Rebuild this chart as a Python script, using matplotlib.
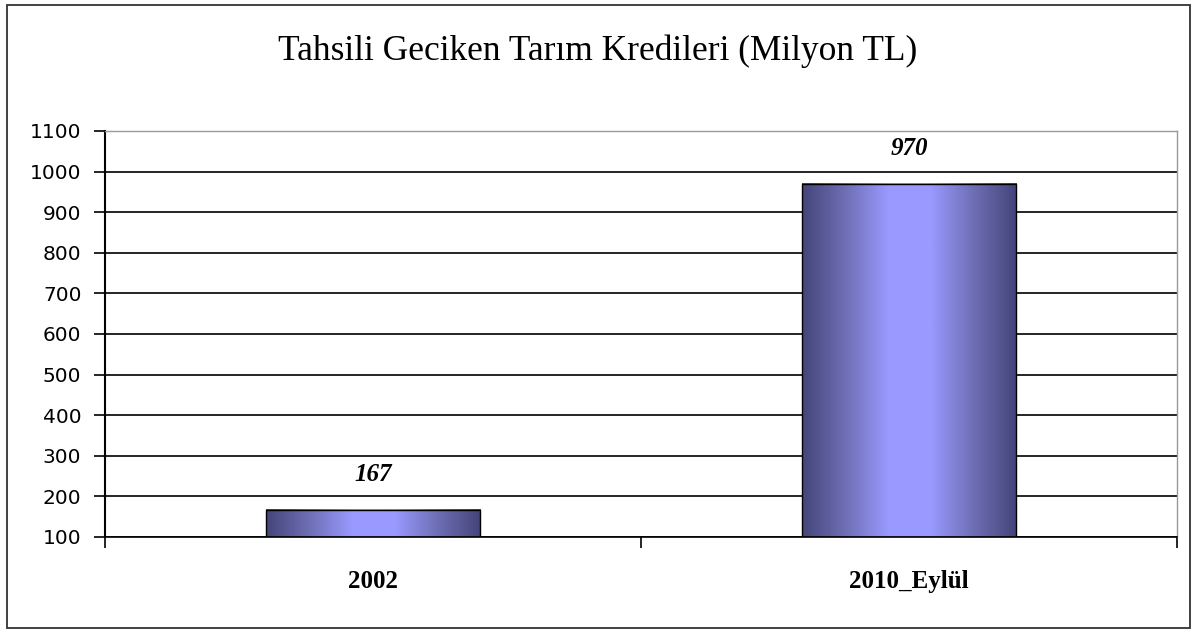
import matplotlib
matplotlib.use("Agg")
import matplotlib.pyplot as plt
import numpy as np
from matplotlib.colors import LinearSegmentedColormap
from matplotlib.patches import Rectangle

categories = ["2002", "2010_Eylül"]
values = [167, 970]
yticks = [100, 200, 300, 400, 500, 600, 700, 800, 900, 1000, 1100]
title = "Tahsili Geciken Tarım Kredileri (Milyon TL)"

fig = plt.figure(figsize=(11.97, 6.33), dpi=100)
fig.patch.set_facecolor("white")
# outer chart frame
fig.add_artist(Rectangle((7/1197, 1-628/633), (1190-7)/1197, (628-5)/633,
                         transform=fig.transFigure, fill=False,
                         edgecolor="#333333", linewidth=1.3))

ax = fig.add_axes([105/1197, 1-537/633, 1072/1197, 406/633])
ymin, ymax = yticks[0], yticks[-1]
x = np.arange(len(categories))
bars = ax.bar(x, [v - ymin for v in values], bottom=ymin, width=0.40,
              color="none", edgecolor="black", linewidth=1.0, zorder=3)

cmap = LinearSegmentedColormap.from_list(
    "g", ["#45457a", "#6e6eb5", "#9999ff", "#9999ff", "#6e6eb5", "#45457a"])
grad = np.linspace(0, 1, 256).reshape(1, -1)
for b in bars:
    x0, w = b.get_x(), b.get_width()
    y0, h = b.get_y(), b.get_height()
    ax.imshow(grad, cmap=cmap, aspect="auto", extent=(x0, x0 + w, y0, y0 + h),
              zorder=2, interpolation="bilinear")

for b, v in zip(bars, values):
    ax.annotate(str(v), (b.get_x() + b.get_width() / 2, v), xytext=(0, 17),
                textcoords="offset points", ha="center", va="bottom",
                fontsize=18, fontweight="bold", fontstyle="italic",
                family="Liberation Serif", zorder=4)

ax.set_xlim(-0.5, len(categories) - 0.5)
ax.set_ylim(ymin, ymax)
ax.set_yticks(yticks)
ax.set_yticklabels([str(t) for t in yticks], family="DejaVu Sans", fontsize=14.5)
ax.set_xticks(x)
ax.set_xticklabels(categories, family="Liberation Serif", fontsize=18, fontweight="bold")
ax.tick_params(axis="x", length=0, pad=24)
ax.tick_params(axis="y", length=8, width=1.2, direction="out", pad=9)
# category boundary ticks
ax.set_xticks(np.arange(-0.5, len(categories), 1.0), minor=True)
ax.tick_params(axis="x", which="minor", length=8, width=1.2, direction="out")

for t in yticks[:-1]:
    ax.axhline(t, color="black", linewidth=1.2, zorder=1)
ax.spines["left"].set_linewidth(1.5)
ax.spines["bottom"].set_linewidth(1.2)
ax.spines["top"].set_color("#999999")
ax.spines["right"].set_color("#999999")
ax.spines["top"].set_linewidth(1.0)
ax.spines["right"].set_linewidth(1.0)

fig.text(598/1197, 1-51/633, title, ha="center", va="center",
         family="Liberation Serif", fontsize=25.5)

fig.savefig("out.png", dpi=100)
